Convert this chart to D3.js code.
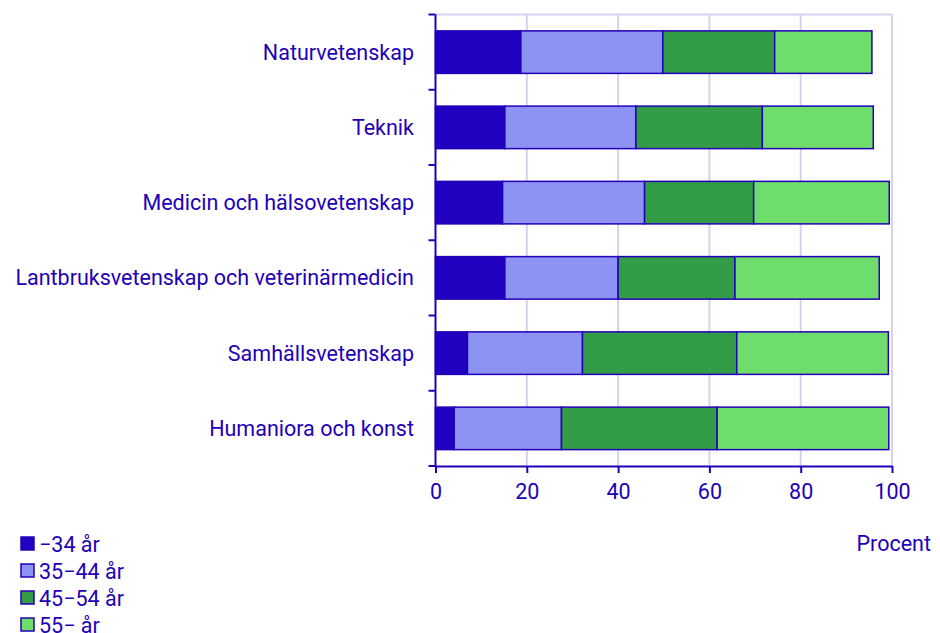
<!DOCTYPE html>
<html>
<head>
<meta charset="utf-8">
<script src="https://cdn.jsdelivr.net/npm/d3@7"></script>
<style>
  body { margin: 0; background: #fff; }
  text { font-family: Roboto, "Noto Sans", sans-serif; fill: #2200b8; }
</style>
</head>
<body>
<div id="chart"></div>
<script>
// data
var categories = ["Naturvetenskap", "Teknik", "Medicin och hälsovetenskap",
    "Lantbruksvetenskap och veterinärmedicin", "Samhällsvetenskap", "Humaniora och konst"];
var seriesNames = ["\u221234 år", "35\u221244 år", "45\u221254 år", "55\u2212 år"];
var age34 = [18.7, 15.2, 14.7, 15.2, 7.0, 4.1];
var age35_44 = [31.1, 28.7, 31.1, 24.8, 25.2, 23.5];
var age45_54 = [24.5, 27.7, 23.9, 25.6, 33.8, 34.1];
var age55 = [21.3, 24.3, 29.7, 31.6, 33.2, 37.6];
var xTicks = [0, 20, 40, 60, 80, 100];

var colors = ["#2200c0", "#8d93f3", "#339c47", "#6fdd6b"];
var ink = "#2200b8";
var fontSize = "21.5px";

var width = 940, height = 633;
var margin = {top: 14.5, right: 48, bottom: 167, left: 435.5};

var rows = categories.map(function(c, i) {
    return {cat: c, s0: age34[i], s1: age35_44[i], s2: age45_54[i], s3: age55[i]};
});
var stack = d3.stack().keys(["s0", "s1", "s2", "s3"])(rows);

var svg = d3.select("#chart").append("svg")
    .attr("width", width)
    .attr("height", height);

var x = d3.scaleLinear().domain([0, 100]).range([margin.left, 892]);
var y = d3.scaleBand().domain(categories)
    .range([margin.top, 466])
    .paddingInner(0.435)
    .paddingOuter(0.2175);

// grid lines
svg.append("g").selectAll("line")
    .data(xTicks.slice(1))
    .enter().append("line")
    .attr("x1", function(d) { return x(d); })
    .attr("x2", function(d) { return x(d); })
    .attr("y1", margin.top)
    .attr("y2", 466)
    .attr("stroke", "#d3d3f0")
    .attr("stroke-width", 2);

svg.append("line")
    .attr("x1", margin.left).attr("x2", x(100))
    .attr("y1", margin.top).attr("y2", margin.top)
    .attr("stroke", "#d3d3f0").attr("stroke-width", 2);

// bars
svg.append("g").selectAll("g")
    .data(stack)
    .enter().append("g")
    .attr("fill", function(d, i) { return colors[i]; })
    .selectAll("rect")
    .data(function(d) { return d; })
    .enter().append("rect")
    .attr("x", function(d) { return x(d[0]); })
    .attr("width", function(d) { return x(d[1]) - x(d[0]); })
    .attr("y", function(d) { return y(d.data.cat); })
    .attr("height", y.bandwidth())
    .attr("stroke", ink)
    .attr("stroke-width", 1.5);

// y axis: line with ticks between bands
var yAxis = svg.append("g");
yAxis.append("line")
    .attr("x1", margin.left).attr("x2", margin.left)
    .attr("y1", margin.top).attr("y2", 466)
    .attr("stroke", ink).attr("stroke-width", 2);
var bounds = d3.range(categories.length + 1).map(function(i) { return margin.top + i * (466 - margin.top) / categories.length; });
yAxis.selectAll(".tk")
    .data(bounds)
    .enter().append("line")
    .attr("x1", margin.left - 7).attr("x2", margin.left)
    .attr("y1", function(d) { return d; }).attr("y2", function(d) { return d; })
    .attr("stroke", ink).attr("stroke-width", 2);
yAxis.selectAll("text")
    .data(categories)
    .enter().append("text")
    .attr("x", 414)
    .attr("y", function(d) { return y(d) + y.bandwidth() / 2; })
    .attr("dy", "0.35em")
    .attr("text-anchor", "end")
    .style("font-size", fontSize)
    .text(function(d) { return d; });

// x axis
var xAxis = svg.append("g")
    .attr("transform", "translate(0,466)")
    .call(d3.axisBottom(x).tickValues(xTicks).tickSize(7).tickSizeOuter(0));
xAxis.select(".domain").attr("stroke", ink).attr("stroke-width", 2);
xAxis.selectAll(".tick line").attr("stroke", ink).attr("stroke-width", 2);
xAxis.selectAll(".tick text")
    .attr("y", 18)
    .style("font-size", fontSize)
    .style("font-family", "Roboto, sans-serif")
    .attr("fill", ink);

svg.append("text")
    .attr("x", 931)
    .attr("y", 551)
    .attr("text-anchor", "end")
    .style("font-size", fontSize)
    .text("Procent");

// legend
var legend = svg.append("g").selectAll("g")
    .data(seriesNames)
    .enter().append("g")
    .attr("transform", function(d, i) { return "translate(20," + (543 + i * 27) + ")"; });
legend.append("rect")
    .attr("x", 1).attr("y", -6)
    .attr("width", 13).attr("height", 13)
    .attr("fill", function(d, i) { return colors[i]; })
    .attr("stroke", ink)
    .attr("stroke-width", 1.5);
legend.append("text")
    .attr("x", 19)
    .attr("y", 1)
    .attr("dy", "0.35em")
    .style("font-size", fontSize)
    .text(function(d) { return d; });
</script>
</body>
</html>
